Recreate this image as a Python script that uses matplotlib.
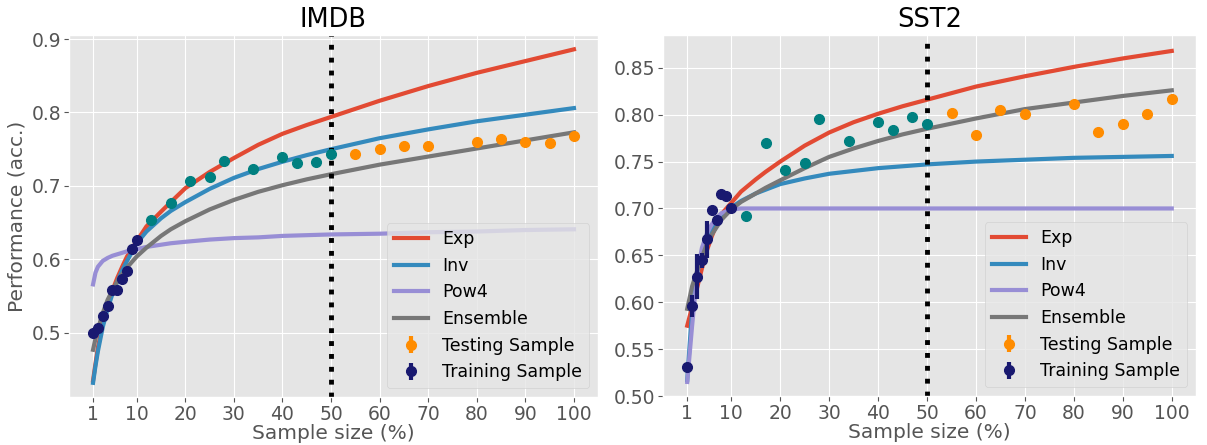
import matplotlib
matplotlib.use('Agg')
import matplotlib.pyplot as plt

plt.style.use('ggplot')

# ---- fitted curve values ----
curve_x = [1, 1.5, 2, 3, 4, 5, 6, 7, 8, 10, 12, 15, 17, 20, 25, 30, 35, 40, 45, 50,
           60, 70, 80, 90, 100]

imdb_exp = [0.435, 0.458, 0.480, 0.512, 0.537, 0.558, 0.575, 0.590, 0.604, 0.625, 0.645,
            0.665, 0.678, 0.697, 0.719, 0.738, 0.756, 0.771, 0.783, 0.794,
            0.816, 0.836, 0.854, 0.870, 0.886]
imdb_inv = [0.432, 0.455, 0.475, 0.508, 0.533, 0.553, 0.570, 0.585, 0.598, 0.622, 0.638,
            0.656, 0.666, 0.678, 0.696, 0.711, 0.723, 0.733, 0.742, 0.750,
            0.765, 0.777, 0.788, 0.797, 0.806]
imdb_pow4 = [0.566, 0.582, 0.590, 0.598, 0.602, 0.605, 0.607, 0.609, 0.611, 0.614, 0.617,
             0.620, 0.622, 0.624, 0.627, 0.629, 0.630, 0.632, 0.633, 0.634,
             0.635, 0.637, 0.638, 0.640, 0.641]
imdb_ens = [0.477, 0.492, 0.505, 0.527, 0.545, 0.558, 0.570, 0.580, 0.589, 0.604, 0.616,
            0.632, 0.641, 0.652, 0.668, 0.681, 0.692, 0.701, 0.709, 0.716,
            0.729, 0.740, 0.751, 0.762, 0.773]

sst2_exp = [0.575, 0.585, 0.595, 0.615, 0.636, 0.655, 0.670, 0.683, 0.694, 0.706, 0.718,
            0.731, 0.739, 0.750, 0.767, 0.781, 0.792, 0.801, 0.809, 0.816,
            0.830, 0.841, 0.851, 0.860, 0.868]
sst2_inv = [0.517, 0.555, 0.590, 0.630, 0.652, 0.667, 0.677, 0.686, 0.692, 0.701, 0.708,
            0.716, 0.720, 0.726, 0.732, 0.737, 0.740, 0.743, 0.745, 0.747,
            0.750, 0.752, 0.754, 0.755, 0.756]
sst2_pow4 = [0.515, 0.545, 0.575, 0.630, 0.658, 0.673, 0.683, 0.690, 0.695, 0.699, 0.700,
             0.700, 0.700, 0.700, 0.700, 0.700, 0.700, 0.700, 0.700, 0.700,
             0.700, 0.700, 0.700, 0.700, 0.700]
sst2_ens = [0.593, 0.605, 0.617, 0.633, 0.648, 0.662, 0.672, 0.680, 0.688, 0.699, 0.707,
            0.716, 0.722, 0.730, 0.743, 0.755, 0.764, 0.772, 0.779, 0.785,
            0.796, 0.806, 0.813, 0.820, 0.826]

# ---- sample points ----
train_x = [1, 2, 3, 4, 5, 6, 7, 8, 9, 10]
imdb_train = [0.500, 0.507, 0.523, 0.537, 0.559, 0.558, 0.573, 0.584, 0.614, 0.627]
imdb_train_err = [0.002] * 10
sst2_train = [0.531, 0.596, 0.627, 0.645, 0.667, 0.698, 0.688, 0.715, 0.713, 0.701]
sst2_train_err = [0.004, 0.012, 0.024, 0.008, 0.020, 0.005, 0.004, 0.003, 0.003, 0.003]

val_x = [13, 17, 21, 25, 28, 34, 40, 43, 47, 50]
imdb_val = [0.654, 0.677, 0.707, 0.712, 0.734, 0.723, 0.739, 0.731, 0.732, 0.743]
sst2_val = [0.692, 0.770, 0.741, 0.748, 0.795, 0.772, 0.792, 0.784, 0.798, 0.790]

test_x = [55, 60, 65, 70, 80, 85, 90, 95, 100]
imdb_test = [0.744, 0.750, 0.754, 0.755, 0.760, 0.764, 0.760, 0.758, 0.768]
sst2_test = [0.802, 0.778, 0.805, 0.801, 0.811, 0.782, 0.790, 0.801, 0.817]
test_err = [0.002] * 9

xticks = [1, 10, 20, 30, 40, 50, 60, 70, 80, 90, 100]

fig = plt.figure(figsize=(12.07, 4.45), dpi=100)
ax1 = fig.add_axes([69 / 1207, 48 / 445, 529 / 1207, 362 / 445])
ax2 = fig.add_axes([663 / 1207, 49 / 445, 533 / 1207, 361 / 445])

panels = [
    (ax1, 'IMDB', imdb_exp, imdb_inv, imdb_pow4, imdb_ens, imdb_train, imdb_train_err,
     imdb_val, imdb_test),
    (ax2, 'SST2', sst2_exp, sst2_inv, sst2_pow4, sst2_ens, sst2_train, sst2_train_err,
     sst2_val, sst2_test),
]

for ax, title, exp, inv, pow4, ens, tr, tr_err, val, te in panels:
    ax.plot(curve_x, exp, color='#E24A33', lw=3, label='Exp')
    ax.plot(curve_x, inv, color='#348ABD', lw=3, label='Inv')
    ax.plot(curve_x, pow4, color='#988ED5', lw=3, label='Pow4')
    ax.plot(curve_x, ens, color='#777777', lw=3, label='Ensemble')
    ax.errorbar(test_x, te, yerr=test_err, fmt='o', color='darkorange', ms=7,
                elinewidth=3, label='Testing Sample', zorder=3)
    ax.errorbar(train_x, tr, yerr=tr_err, fmt='o', color='midnightblue', ms=7,
                elinewidth=3, label='Training Sample', zorder=3)
    ax.plot(val_x, val, 'o', color='teal', ms=7, zorder=3)
    ax.axvline(50, color='black', ls=':', lw=3.5)
    ax.set_title(title, fontsize=18.5, color='black')
    ax.set_xlabel('Sample size (%)', fontsize=14.5, color='#555555', labelpad=0)
    ax.set_xticks(xticks)
    ax.tick_params(labelsize=13.5, colors='#555555', pad=2)
    ax.legend(loc='lower right', fontsize=12.5)

ax1.set_ylim(0.4127, 0.9055)
ax1.set_yticks([0.5, 0.6, 0.7, 0.8, 0.9])
ax1.set_yticklabels(['0.5', '0.6', '0.7', '0.8', '0.9'])
ax1.set_ylabel('Performance (acc.)', fontsize=14.5, color='#555555')

ax2.set_ylim(0.50, 0.885)
sst_ticks = [0.50, 0.55, 0.60, 0.65, 0.70, 0.75, 0.80, 0.85]
ax2.set_yticks(sst_ticks)
ax2.set_yticklabels([f'{t:.2f}' for t in sst_ticks])

fig.savefig('out.png', dpi=100)
